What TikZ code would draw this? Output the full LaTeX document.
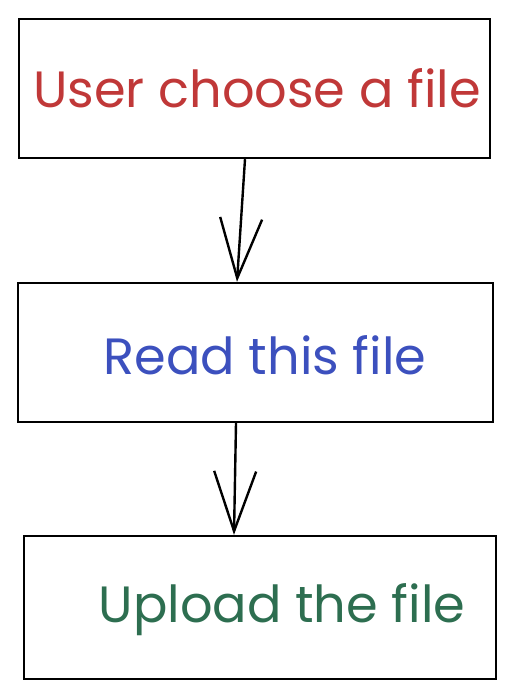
\documentclass[tikz,border=0pt]{standalone}
\usepackage{fontspec}
\setmainfont{Poppins}
\usetikzlibrary{arrows.meta}
\usetikzlibrary{positioning}

\definecolor{stepred}{RGB}{192,56,56}
\definecolor{stepblue}{RGB}{60,80,190}
\definecolor{stepgreen}{RGB}{45,110,80}

\begin{document}
\begin{tikzpicture}[x=0.5pt, y=-0.5pt,
    >={Straight Barb[length=30pt, width=21pt]},
    stepbox/.style={draw, line width=1.2pt, minimum width=235.5pt, minimum height=69.5pt, inner sep=0pt},
    steptext/.style={font=\fontsize{25.5}{30}\selectfont, inner sep=0pt}]
    \useasboundingbox (0,0) rectangle (514,698);

    \node (userbox) [stepbox] at (254.5,88.5) {};
    \node (readbox) [stepbox, minimum width=237.5pt] at (255.5,352.5) {};
    \node (uploadbox) [stepbox, minimum width=236pt, minimum height=71.5pt] at (260,607.5) {};

    \node (user) [steptext, text=stepred] at (257,88) {User choose a file};
    \node (read) [steptext, text=stepblue] at (265,355) {Read this file};
    \node (upload) [steptext, text=stepgreen] at (282,610) {Upload the file};

    \draw [->, line width=1.2pt] ([xshift=-4.75pt]userbox.south) -- ([xshift=-9.25pt]readbox.north);
    \draw [->, line width=1.2pt] ([xshift=-9.75pt]readbox.south) -- ([xshift=-13pt]uploadbox.north);
\end{tikzpicture}
\end{document}
